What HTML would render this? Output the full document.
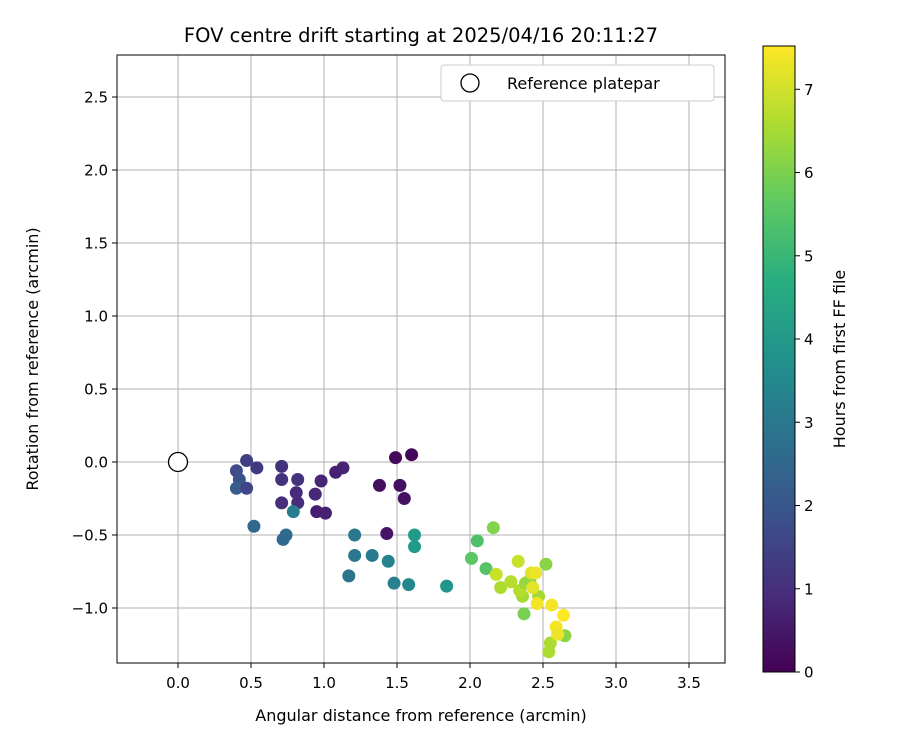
<!DOCTYPE html>
<html><head><meta charset="utf-8"><style>
body{margin:0;background:#fff;}
svg text{font-family:"DejaVu Sans","Liberation Sans",sans-serif;fill:#000;}
</style></head><body>
<svg id="chart" width="900" height="750" xmlns="http://www.w3.org/2000/svg">
<defs><linearGradient id="vir" x1="0" y1="1" x2="0" y2="0">
<stop offset="0" stop-color="#440154"/><stop offset="0.125" stop-color="#472d7b"/><stop offset="0.25" stop-color="#3b528b"/><stop offset="0.375" stop-color="#2c728e"/><stop offset="0.5" stop-color="#21918c"/><stop offset="0.625" stop-color="#28ae80"/><stop offset="0.75" stop-color="#5ec962"/><stop offset="0.875" stop-color="#addc30"/><stop offset="1" stop-color="#fde725"/></linearGradient></defs>
<text x="421" y="42" font-size="19.5" text-anchor="middle">FOV centre drift starting at 2025/04/16 20:11:27</text>
<g id="grid"></g>
<g id="pts"></g>
<rect x="117" y="55" width="608" height="608" fill="none" stroke="#000" stroke-width="1"/>
<g id="ticks"></g>
<text x="421" y="721" font-size="16" text-anchor="middle">Angular distance from reference (arcmin)</text>
<text transform="translate(38,359) rotate(-90)" font-size="16" text-anchor="middle">Rotation from reference (arcmin)</text>
<g>
<rect x="441" y="65" width="273" height="36" rx="3" fill="#fff" stroke="#ccc"/>
<circle cx="470" cy="83" r="9" fill="none" stroke="#000" stroke-width="1.3"/>
<text x="507" y="89" font-size="16">Reference platepar</text></g>
<rect x="763" y="46" width="32" height="626" fill="url(#vir)" stroke="#000"/>
<g id="cbt"></g>
<text transform="translate(845,359) rotate(-90)" font-size="16" text-anchor="middle">Hours from first FF file</text>
</svg>
<script>
const xVals=[1.49,1.60,1.38,1.52,1.55,1.43,1.08,1.13,0.98,0.94,1.01,0.95,0.71,0.71,0.82,0.71,0.81,0.82,0.47,0.54,0.40,0.42,0.40,0.47,0.52,0.74,0.72,0.79,1.21,1.21,1.33,1.44,1.17,1.48,1.58,1.62,1.62,1.84,2.01,2.16,2.05,2.11,2.21,2.18,2.28,2.33,2.36,2.34,2.38,2.41,2.47,2.52,2.37,2.55,2.54,2.65,2.42,2.45,2.43,2.46,2.56,2.64,2.59,2.60];
const yVals=[0.03,0.05,-0.16,-0.16,-0.25,-0.49,-0.07,-0.04,-0.13,-0.22,-0.35,-0.34,-0.03,-0.12,-0.12,-0.28,-0.21,-0.28,0.01,-0.04,-0.06,-0.12,-0.18,-0.18,-0.44,-0.50,-0.53,-0.34,-0.50,-0.64,-0.64,-0.68,-0.78,-0.83,-0.84,-0.50,-0.58,-0.85,-0.66,-0.45,-0.54,-0.73,-0.86,-0.77,-0.82,-0.68,-0.92,-0.88,-0.83,-0.81,-0.92,-0.70,-1.04,-1.24,-1.30,-1.19,-0.76,-0.76,-0.86,-0.97,-0.98,-1.05,-1.13,-1.18];
const hours=[0.15,0.1,0.3,0.3,0.35,0.4,0.7,0.75,0.8,0.85,0.7,0.65,1.1,1.15,1.1,1.0,0.9,0.95,1.4,1.3,1.7,1.9,2.2,1.6,2.5,2.6,2.5,3.2,3.0,3.0,3.1,3.4,2.9,3.3,3.5,4.1,4.1,3.9,5.6,6.1,5.4,5.5,6.6,6.9,6.7,6.9,6.5,6.7,6.4,6.3,6.5,6.2,6.0,6.6,6.6,6.2,7.2,7.3,7.2,7.4,7.4,7.5,7.4,7.3];
const xTicks=[0.0,0.5,1.0,1.5,2.0,2.5,3.0,3.5];
const yTicks=[-1.0,-0.5,0.0,0.5,1.0,1.5,2.0,2.5];
const cTicks=[0,1,2,3,4,5,6,7];
const NS="http://www.w3.org/2000/svg";
const xs=v=>178+v*146, ys=v=>462-v*146, cs=v=>672-v*(626/7.52);
const vir=[[68,1,84],[72,40,120],[62,73,137],[49,104,142],[38,130,142],[31,158,137],[53,183,121],[109,205,89],[180,222,44],[253,231,37]];
function color(h){let t=Math.max(0,Math.min(1,h/7.52))*9;let i=Math.min(8,Math.floor(t)),f=t-i;const a=vir[i],b=vir[i+1];return `rgb(${a.map((c,k)=>Math.round(c+(b[k]-c)*f)).join(',')})`;}
function mk(tag,attrs,parent){const e=document.createElementNS(NS,tag);for(const k in attrs)e.setAttribute(k,attrs[k]);parent.appendChild(e);return e;}
const fmt=v=>(v<0?'\u2212':'')+Math.abs(v).toFixed(1);
const grid=document.getElementById('grid'),ticks=document.getElementById('ticks'),pts=document.getElementById('pts'),cbt=document.getElementById('cbt');
xTicks.forEach(v=>{const x=xs(v);
const g=mk('line',{x1:x,x2:x,y1:55,y2:663,stroke:'#b0b0b0','stroke-width':1},grid);


mk('line',{x1:x,x2:x,y1:663,y2:668,stroke:'#000'},ticks);
const t=mk('text',{x:x,y:688,'font-size':15,'text-anchor':'middle'},ticks);t.textContent=fmt(v);

});
yTicks.forEach(v=>{const y=ys(v);
const g=mk('line',{x1:117,x2:725,y1:y,y2:y,stroke:'#b0b0b0','stroke-width':1},grid);


mk('line',{x1:112,x2:117,y1:y,y2:y,stroke:'#000'},ticks);
const t=mk('text',{x:108,y:y+5.5,'font-size':15,'text-anchor':'end'},ticks);t.textContent=fmt(v);

});
cTicks.forEach(v=>{const y=cs(v);
mk('line',{x1:795,x2:800,y1:y,y2:y,stroke:'#000'},cbt);
const t=mk('text',{x:804,y:y+5.5,'font-size':15},cbt);t.textContent=v;

});
xVals.forEach((v,i)=>{const c=mk('circle',{cx:xs(v),cy:ys(yVals[i]),r:6.5,fill:color(hours[i])},pts);

});
const ref=mk('circle',{cx:xs(0),cy:ys(0),r:9.5,fill:'#fff',stroke:'#000','stroke-width':1.3},pts);


</script>
</body></html>
